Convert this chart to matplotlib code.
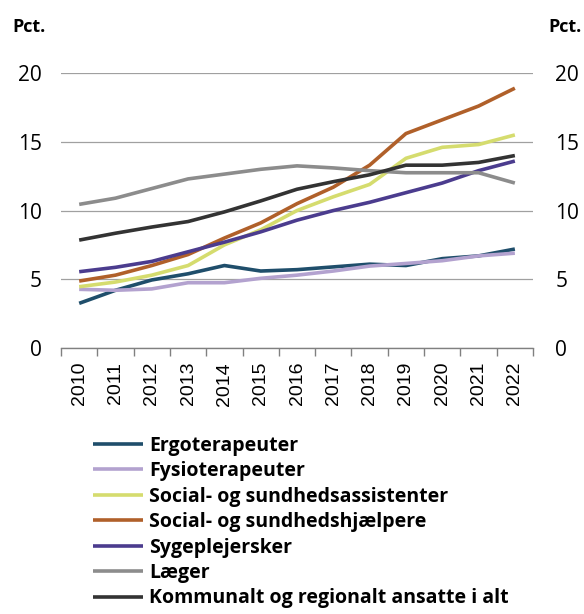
import numpy as np
import matplotlib
matplotlib.use("Agg")
import matplotlib.pyplot as plt
from matplotlib.ticker import FixedLocator

plt.rcParams["font.family"] = ["Open Sans", "DejaVu Sans"]

years = [str(y) for y in range(2010, 2023)]

ergoterapeuter = [3.25, 4.2, 4.95, 5.4, 6.0, 5.6, 5.7, 5.9, 6.1, 6.0, 6.5, 6.7, 7.2]
fysioterapeuter = [4.27, 4.2, 4.3, 4.75, 4.75, 5.07, 5.3, 5.6, 5.96, 6.15, 6.35, 6.7, 6.9]
sosu_assistenter = [4.46, 4.8, 5.3, 6.0, 7.5, 8.6, 10.0, 11.0, 11.9, 13.8, 14.6, 14.8, 15.5]
sosu_hjaelpere = [4.87, 5.3, 6.0, 6.8, 8.0, 9.1, 10.5, 11.7, 13.3, 15.6, 16.6, 17.6, 18.9]
sygeplejersker = [5.55, 5.87, 6.3, 7.0, 7.7, 8.45, 9.3, 10.0, 10.6, 11.3, 12.0, 12.9, 13.6]
laeger = [10.45, 10.9, 11.6, 12.3, 12.65, 13.0, 13.25, 13.1, 12.9, 12.75, 12.75, 12.75, 12.0]
kommunalt = [7.85, 8.35, 8.8, 9.2, 9.9, 10.7, 11.55, 12.1, 12.6, 13.3, 13.3, 13.5, 14.0]

series = [
    ("Ergoterapeuter", ergoterapeuter, "#1f4e6b"),
    ("Fysioterapeuter", fysioterapeuter, "#b3a2cf"),
    ("Social- og sundhedsassistenter", sosu_assistenter, "#d5dc6e"),
    ("Social- og sundhedshjælpere", sosu_hjaelpere, "#b0602a"),
    ("Sygeplejersker", sygeplejersker, "#4b3c8e"),
    ("Læger", laeger, "#8c8c8c"),
    ("Kommunalt og regionalt ansatte i alt", kommunalt, "#333333"),
]

fig = plt.figure(figsize=(5.84, 6.14), dpi=100)
ax = fig.add_axes([0.1045, 0.4332, 0.8082, 0.4478])

x = np.arange(len(years))
for label, vals, color in series:
    ax.plot(x, vals, color=color, lw=2.6, label=label, solid_capstyle="butt")

ax.set_xlim(-0.5, len(years) - 0.5)
ax.set_ylim(0, 20)
ax.set_yticks([0, 5, 10, 15, 20])
ax.grid(axis="y", color="#a0a0a0", lw=0.9)
ax.set_axisbelow(True)

for s in ["top", "left", "right"]:
    ax.spines[s].set_visible(False)
ax.spines["bottom"].set_color("#808080")
ax.spines["bottom"].set_linewidth(1.0)

ax.set_xticks(x)
ax.set_xticklabels(years, rotation=90, fontsize=14, family="Liberation Sans")
ax.tick_params(axis="x", which="major", length=0, pad=10)
ax.xaxis.set_minor_locator(FixedLocator(np.arange(-0.5, len(years), 1.0)))
ax.tick_params(axis="x", which="minor", length=6, color="#808080", width=1.0)

ax.tick_params(axis="y", length=0, labelsize=15, pad=14)
ax2 = ax.twinx()
ax2.set_ylim(ax.get_ylim())
ax2.set_yticks([0, 5, 10, 15, 20])
ax2.tick_params(axis="y", length=0, labelsize=15, pad=16)
for s in ["top", "left", "right", "bottom"]:
    ax2.spines[s].set_visible(False)

fig.text(12 / 584, 1 - 27 / 614, "Pct.", fontsize=13, fontweight="bold", va="center", ha="left")
fig.text(582 / 584, 1 - 27 / 614, "Pct.", fontsize=13, fontweight="bold", va="center", ha="right")

handles, labels = ax.get_legend_handles_labels()
leg = fig.legend(handles, labels, loc="upper left", bbox_to_anchor=(85 / 584, 1 - 428 / 614),
                 frameon=False, handlelength=2.6, handletextpad=0.28,
                 labelspacing=0.28, borderaxespad=0, prop={"weight": "bold", "size": 14})

fig.savefig("out.png", dpi=100)
